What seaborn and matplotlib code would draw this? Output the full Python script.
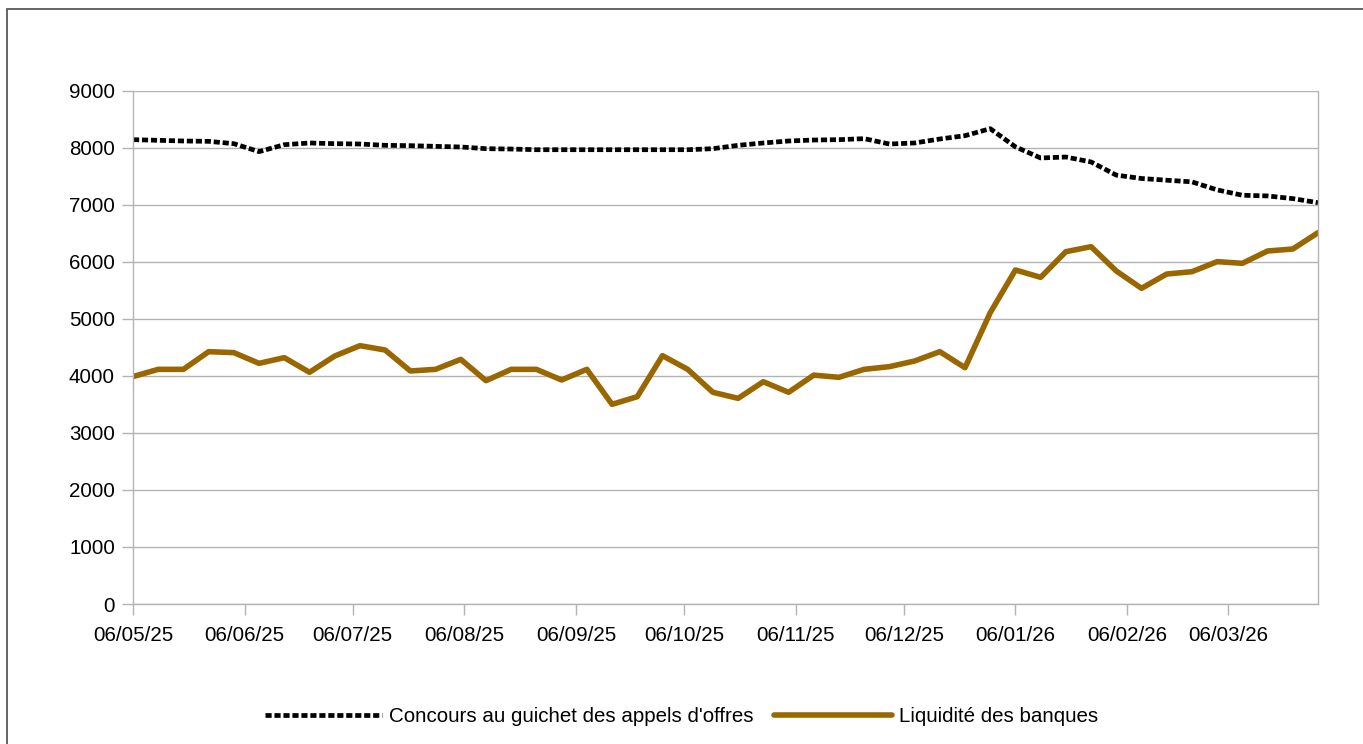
import pandas as pd
import matplotlib.pyplot as plt
import matplotlib.dates as mdates
from matplotlib.patches import Rectangle
import seaborn as sns

# weekly observations, 06/05/25 -> 31/03/26
dates = pd.date_range("2025-05-06", periods=48, freq="7D")

concours = [8146, 8135, 8123, 8117, 8076, 7936, 8058, 8088, 8076, 8070, 8047, 8041, 8029, 8018,
            7988, 7982, 7970, 7970, 7970, 7970, 7970, 7970, 7970, 7988, 8047, 8088, 8123, 8140,
            8146, 8164, 8070, 8088, 8158, 8216, 8339, 8020, 7825, 7842, 7755,
            7524, 7465, 7435, 7406, 7265, 7171, 7159, 7112, 7041]

liquidite = [3990, 4117, 4117, 4427, 4410, 4222, 4322, 4065, 4350, 4532, 4456, 4088, 4117, 4292,
             3918, 4117, 4117, 3930, 4117, 3503, 3637, 4357, 4117, 3714, 3608, 3900, 3714, 4015,
             3977, 4117, 4164, 4263, 4427, 4146, 5111, 5860, 5731, 6181, 6269,
             5842, 5538, 5789, 5830, 6006, 5977, 6193, 6228, 6514]

# monthly ticks on the 6th
tick_dates = pd.date_range("2025-05-01", "2026-03-01", freq="MS") + pd.Timedelta(days=5)
y_ticks = list(range(0, 10000, 1000))

label_concours = "Concours au guichet des appels d'offres"
label_liquidite = "Liquidité des banques"

df = pd.DataFrame({"date": dates, "concours": concours, "liquidite": liquidite})

sns.set_theme(style="white")
plt.rcParams['font.family'] = ['Liberation Sans', 'DejaVu Sans']

fig = plt.figure(figsize=(13.63, 7.44), dpi=100)
ax = fig.add_axes([133 / 1363, 1 - 604 / 744, (1318 - 133) / 1363, (604 - 91) / 744])

grid_col = "#b3b3b3"
fs = 14.8

sns.lineplot(data=df, x="date", y="concours", ax=ax, color="black", linewidth=3.4,
             linestyle=(0, (1.3, 0.6)), dash_capstyle="butt", label=label_concours)
sns.lineplot(data=df, x="date", y="liquidite", ax=ax, color="#996600", linewidth=4.0,
             label=label_liquidite)

ax.set_xlim(dates[0], dates[-1])
ax.set_ylim(0, 9000)
ax.set_yticks(y_ticks)
ax.set_xticks(tick_dates)
ax.xaxis.set_major_formatter(mdates.DateFormatter("%d/%m/%y"))
ax.set_xlabel("")
ax.set_ylabel("")

ax.grid(axis="y", color=grid_col, linewidth=1.0)
ax.set_axisbelow(True)
for s in ax.spines.values():
    s.set_color(grid_col)
    s.set_linewidth(1.0)
ax.spines["top"].set_visible(False)

ax.tick_params(axis="both", which="major", labelsize=fs, colors="black",
               length=8, width=1.0, direction="out")
ax.tick_params(axis="y", color=grid_col, pad=5)
ax.tick_params(axis="x", color=grid_col, pad=8)
ax.tick_params(left=True, bottom=True)

leg = ax.legend(loc="center", bbox_to_anchor=(0.5, (744 - 717) / 744), bbox_transform=fig.transFigure,
                ncol=2, frameon=False, fontsize=fs, handlelength=5.7, handletextpad=0.35,
                columnspacing=1.0, labelcolor="black")

# outer frame of the chart object
fig.patches.append(Rectangle((7 / 1363, -0.1), 1.2, 1 - 9 / 744 + 0.1, transform=fig.transFigure,
                             fill=False, edgecolor="#595959", linewidth=1.3, zorder=0))

fig.savefig("out.png", dpi=100)
